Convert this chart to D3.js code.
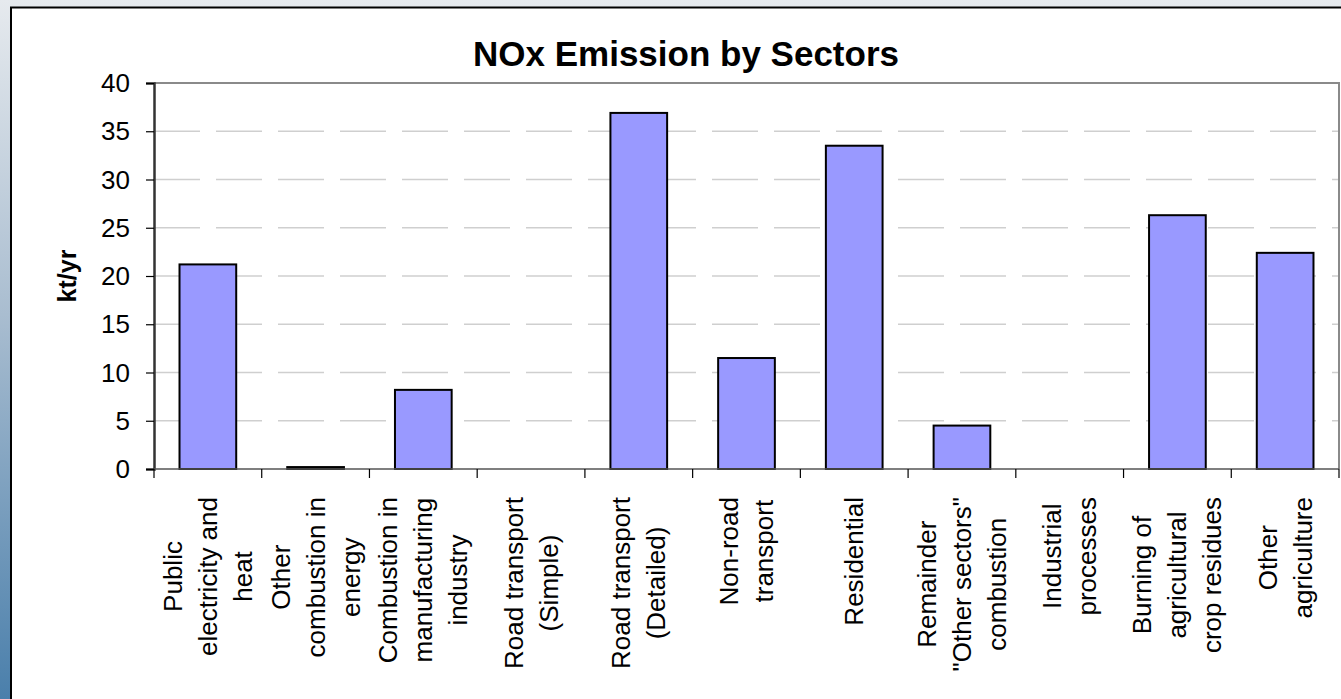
<!DOCTYPE html>
<html>
<head>
<meta charset="utf-8">
<script src="https://cdn.jsdelivr.net/npm/d3@7"></script>
<style>
  html, body { margin: 0; padding: 0; background: #fff; }
  svg { display: block; }
  text { font-family: Arial, "Liberation Sans", sans-serif; }
</style>
</head>
<body>
<svg id="chart" width="1341" height="699"></svg>
<script>
// ---- data ----
const categories = [
  "Public\nelectricity and\nheat",
  "Other\ncombustion in\nenergy",
  "Combustion in\nmanufacturing\nindustry",
  "Road transport\n(Simple)",
  "Road transport\n(Detailed)",
  "Non-road\ntransport",
  "Residential",
  "Remainder\n\"Other sectors\"\ncombustion",
  "Industrial\nprocesses",
  "Burning of\nagricultural\ncrop residues",
  "Other\nagriculture"
];
const values = [21.2, 0.2, 8.2, 0, 36.9, 11.5, 33.5, 4.5, 0, 26.3, 22.4];
const yTicks = [0, 5, 10, 15, 20, 25, 30, 35, 40];
const title = "NOx Emission by Sectors";
const yLabel = "kt/yr";

// ---- layout ----
const W = 1341, H = 699;
const plot = { left: 154, right: 1339, top: 83, bottom: 469 };
const svg = d3.select("#chart");

// background
const defs = svg.append("defs");
const grad = defs.append("linearGradient").attr("id", "bg").attr("x1", 0).attr("y1", 0).attr("x2", 0).attr("y2", 1);
grad.append("stop").attr("offset", "0%").attr("stop-color", "#e6eaee");
grad.append("stop").attr("offset", "45%").attr("stop-color", "#a9bdd0");
grad.append("stop").attr("offset", "100%").attr("stop-color", "#4a7fab");
svg.append("rect").attr("width", W).attr("height", H).attr("fill", "url(#bg)");
svg.append("rect").attr("x", 11).attr("y", 7.5).attr("width", 1400).attr("height", 800)
  .attr("fill", "#fff").attr("stroke", "#000").attr("stroke-width", 2);

// scales
const x = d3.scaleBand().domain(d3.range(categories.length))
  .range([plot.left, plot.right]).paddingInner(0.4737).paddingOuter(0.23685);
const y = d3.scaleLinear().domain([0, 40]).range([plot.bottom, plot.top]);

// gridlines
svg.append("g").selectAll("line").data(yTicks.filter(t => t > 0 && t < 40)).join("line")
  .attr("x1", plot.left).attr("x2", plot.right)
  .attr("y1", d => y(d)).attr("y2", d => y(d))
  .attr("stroke", "#cfcfcf").attr("stroke-width", 1.5).attr("stroke-dasharray", "46,16");

// plot border (top/right gray)
svg.append("path")
  .attr("d", `M${plot.left},${y(40)}H${plot.right}V${plot.bottom}`)
  .attr("fill", "none").attr("stroke", "#8a8a8a").attr("stroke-width", 2);

// bars
svg.append("g").selectAll("rect").data(values).join("rect")
  .attr("x", (d, i) => x(i)).attr("width", x.bandwidth())
  .attr("y", d => y(d)).attr("height", d => y(0) - y(d))
  .attr("fill", "#9999ff").attr("stroke", "#000").attr("stroke-width", 2);

// y axis
const yAxis = d3.axisLeft(y).tickValues(yTicks).tickSize(8).tickPadding(16).tickFormat(d3.format("d"));
const gy = svg.append("g").attr("transform", `translate(${plot.left},0)`).call(yAxis);
gy.select(".domain").attr("stroke", "#333").attr("stroke-width", 2.5);
gy.selectAll(".tick line").attr("stroke", "#000").attr("stroke-width", 1.2);
gy.selectAll(".tick text").attr("font-size", 26).attr("fill", "#000")
  .attr("font-family", "Arial, 'Liberation Sans', sans-serif").attr("dy", "0.33em");

// x axis line and ticks at band boundaries
const step = x.step();
const boundaries = d3.range(categories.length + 1).map(i => plot.left + i * step);
svg.append("line").attr("x1", plot.left).attr("x2", plot.right)
  .attr("y1", plot.bottom).attr("y2", plot.bottom).attr("stroke", "#555").attr("stroke-width", 1.5);
svg.append("g").selectAll("line").data(boundaries).join("line")
  .attr("x1", d => d).attr("x2", d => d)
  .attr("y1", plot.bottom).attr("y2", plot.bottom + 9)
  .attr("stroke", "#000").attr("stroke-width", 1.2);

// x labels (rotated, multi-line)
const lineGap = 35;
const labelTop = 497;
categories.forEach((c, i) => {
  const lines = c.split("\n");
  const cx = x(i) + x.bandwidth() / 2;
  const g = svg.append("g");
  const texts = lines.map((ln, j) => g.append("text")
    .attr("font-size", 26).attr("fill", "#000").attr("text-anchor", "middle")
    .text(ln));
  const maxLen = d3.max(texts, t => t.node().getComputedTextLength());
  const centerY = labelTop + maxLen / 2;
  g.attr("transform", `translate(${cx},${centerY}) rotate(-90)`);
  texts.forEach((t, j) => t.attr("x", 0).attr("y", (j - (lines.length - 1) / 2) * lineGap + 9));
});

// title
svg.append("text").attr("x", 686).attr("y", 66).attr("text-anchor", "middle")
  .attr("font-size", 35).attr("font-weight", "bold").attr("fill", "#000").text(title);

// y label
svg.append("text").attr("transform", `translate(76,${(plot.top + plot.bottom) / 2}) rotate(-90)`)
  .attr("text-anchor", "middle").attr("font-size", 25).attr("font-weight", "bold").attr("fill", "#000").text(yLabel);
</script>
</body>
</html>
